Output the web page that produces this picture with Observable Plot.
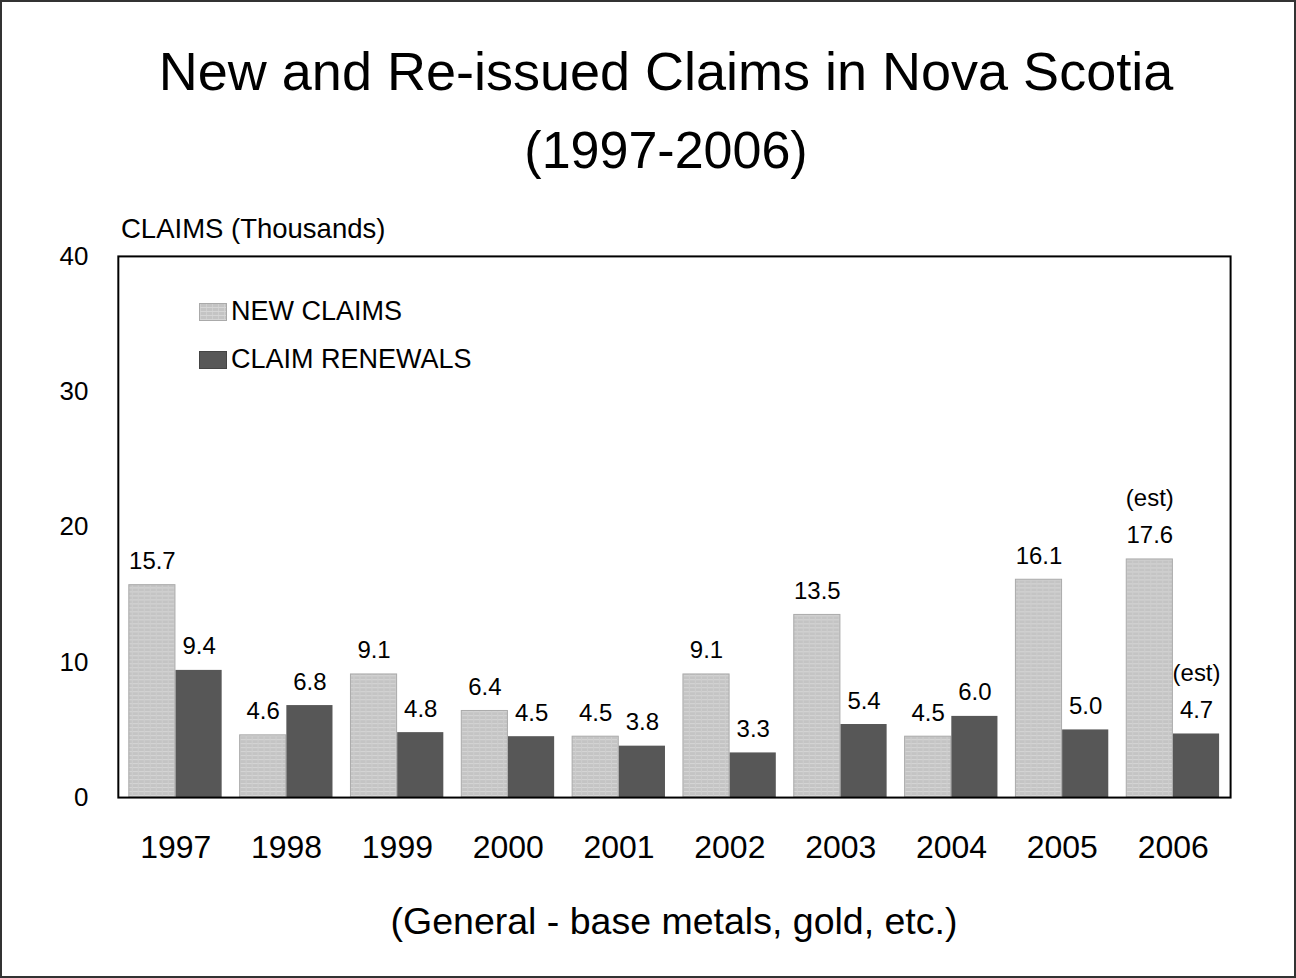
<!DOCTYPE html>
<html>
<head>
<meta charset="utf-8">
<script src="https://cdn.jsdelivr.net/npm/d3@7"></script>
<script src="https://cdn.jsdelivr.net/npm/@observablehq/plot@0.6"></script>
<style>
  html, body { margin: 0; padding: 0; background: #fff; }
  #wrap { position: relative; width: 1296px; height: 978px; box-sizing: border-box; border: 2px solid #333; overflow: hidden; font-family: "Liberation Sans", Arial, sans-serif; color: #000; }
  #title { position: absolute; left: 36px; right: 0; top: 30px; text-align: center; font-size: 54px; line-height: 78px; }
  #title .l2 { font-size: 52px; }
  #ylabel { position: absolute; left: 119px; top: 211px; font-size: 27.5px; }
  #chart { position: absolute; left: -2px; top: 198px; }
  #caption { position: absolute; left: 52px; right: 0; top: 898px; text-align: center; font-size: 37.5px; }
  .leg { position: absolute; left: 197px; font-size: 27px; display: flex; align-items: center; }
  .sw { width: 28px; height: 18px; margin-right: 4px; box-sizing: border-box; }
  .sw.new { background-color: #c4c4c4; border: 1px solid #aaa;
    background-image: repeating-linear-gradient(0deg, #d6d6d6 0 1px, transparent 1px 4px), repeating-linear-gradient(90deg, #cfcfcf 0 1px, transparent 1px 6px); }
  .sw.ren { background: #575757; border: 1px solid #444; }
</style>
</head>
<body>
<div id="wrap">
  <div id="title">New and Re-issued Claims in Nova Scotia<br><span class="l2">(1997-2006)</span></div>
  <div id="ylabel">CLAIMS (Thousands)</div>
  <div id="chart"></div>
  <div class="leg" style="top:294px"><div class="sw new"></div>NEW CLAIMS</div>
  <div class="leg" style="top:342px"><div class="sw ren"></div>CLAIM RENEWALS</div>
  <div id="caption">(General - base metals, gold, etc.)</div>
</div>
<script>
const years = ["1997","1998","1999","2000","2001","2002","2003","2004","2005","2006"];
const newClaims = [15.7, 4.6, 9.1, 6.4, 4.5, 9.1, 13.5, 4.5, 16.1, 17.6];
const renewals  = [9.4, 6.8, 4.8, 4.5, 3.8, 3.3, 5.4, 6.0, 5.0, 4.7];
const estimated = ["2006"];
const yTicks = [0, 10, 20, 30, 40];

const newData = years.map((y, i) => ({year: y, value: newClaims[i],
  label: (estimated.includes(y) ? "(est)\n" : "") + newClaims[i].toFixed(1)}));
const renData = years.map((y, i) => ({year: y, value: renewals[i],
  label: (estimated.includes(y) ? "(est)\n" : "") + renewals[i].toFixed(1)}));

const W = 1296, H = 700;
const mL = 118, mR = 64;
const padIn = 0.16, padOut = 0.08;
const step = (W - mL - mR) / (years.length - padIn + 2 * padOut);
const half = step * (1 - padIn) / 2;

const font = "Liberation Sans, Arial, sans-serif";

const plot = Plot.plot({
  width: W, height: H,
  marginLeft: mL, marginRight: mR, marginTop: 56, marginBottom: 102,
  style: {fontFamily: font, background: "transparent", color: "#000"},
  x: {domain: years, paddingInner: padIn, paddingOuter: padOut, label: null, axis: null},
  y: {domain: [0, 40], label: null, axis: null},
  marks: [
    Plot.axisX({tickSize: 0, tickPadding: 38, fontSize: 32, label: null}),
    Plot.axisY({ticks: yTicks, tickSize: 0, tickPadding: 30, fontSize: 26, label: null}),
    Plot.barY(newData, {x: "year", y: "value", fill: "url(#newpat)", stroke: "#aaaaaa", strokeWidth: 1, insetRight: half}),
    Plot.barY(renData, {x: "year", y: "value", fill: "#575757", insetLeft: half}),
    Plot.text(newData, {x: "year", y: "value", text: "label", dx: -half / 2, dy: -16, lineAnchor: "bottom", lineHeight: 1.55, fontSize: 24, fill: "#000"}),
    Plot.text(renData, {x: "year", y: "value", text: "label", dx: half / 2, dy: -16, lineAnchor: "bottom", lineHeight: 1.55, fontSize: 24, fill: "#000"}),
    Plot.frame({stroke: "#000", strokeWidth: 2})
  ]
});

// texture pattern for new-claims bars
const ns = "http://www.w3.org/2000/svg";
const defs = document.createElementNS(ns, "defs");
defs.innerHTML = `<pattern id="newpat" patternUnits="userSpaceOnUse" width="6" height="4">
  <rect width="6" height="4" fill="#c4c4c4"/>
  <rect width="6" height="1" fill="#d6d6d6"/>
  <rect width="1" height="4" fill="#cdcdcd"/>
</pattern>`;
plot.insertBefore(defs, plot.firstChild);

document.getElementById("chart").appendChild(plot);
</script>
</body>
</html>
